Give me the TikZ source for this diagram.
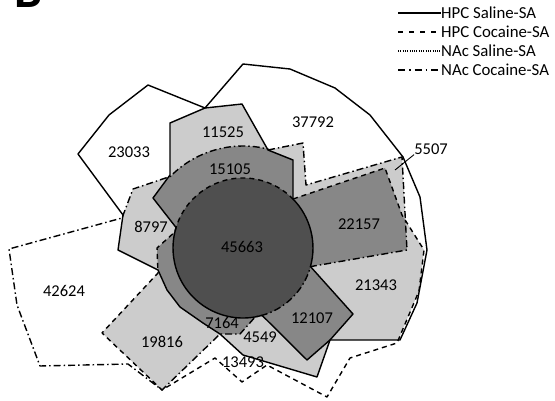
\documentclass[tikz,border=0pt]{standalone}
\usepackage{fontspec}
\setmainfont{Carlito}
\usetikzlibrary{calc}
\definecolor{vennLight}{gray}{0.80}
\definecolor{vennMid}{gray}{0.53}
\definecolor{vennDark}{gray}{0.31}
\tikzset{
  %% set outlines
  lnHPCsal/.style={draw=black, line width=1.4pt, line join=round},
  lnHPCcoc/.style={draw=black, line width=1.4pt, line join=round, dash pattern=on 5pt off 4pt},
  lnNAcsal/.style={draw=black, line width=1.4pt, line join=round},
  lnNAccoc/.style={draw=black, line width=1.4pt, line join=round, dash pattern=on 7pt off 3pt on 1.5pt off 3pt},
  %% legend samples
  legHPCsal/.style={draw=black, line width=1.1pt},
  legHPCcoc/.style={draw=black, line width=1.1pt, dash pattern=on 5pt off 6pt},
  legNAcsal/.style={draw=black, line width=1.1pt, dash pattern=on 1pt off 1.3pt},
  legNAccoc/.style={draw=black, line width=1.1pt, dash pattern=on 7pt off 4pt on 1.5pt off 4pt},
  %% texts
  cnt/.style={font=\fontsize{16.5}{18}\selectfont, inner sep=0pt},
  legtxt/.style={font=\fontsize{16.8}{18}\selectfont, anchor=west, inner sep=0pt},
}
%% the four sets (pixel coordinates, y downwards)
\newcommand{\outlineHPCsal}{(170,123) -- (205,108) -- (243,64) -- (290,69) -- (335,88) -- (370,115)
  -- (403,157) -- (420,197) -- (427,250) -- (417,303) -- (400,340) -- (330,340) -- (307,360)
  -- (262.06,315.35) arc[start angle=74.2, end angle=197, radius=70] -- (153,198) -- (170,175) -- cycle}
\newcommand{\outlineNAcsal}{(148,85) -- (205,108) -- (242,104) -- (268,150) -- (293,160)
  -- (293,199) arc[start angle=-44.4, end angle=15.4, radius=70] -- (353,314) -- (330,340)
  -- (317,377) -- (243,355) -- (220,334) -- (203,323) -- (180,307) -- (167,290) -- (158,270)
  -- (118,250) -- (123,215) -- (78,154) -- (109,115) -- cycle}
\newcommand{\outlineHPCcoc}{(293,199) -- (385,168) -- (402,215) -- (424,250) -- (419,291)
  -- (397,343) -- (350,358) -- (327,397) -- (267,365) -- (242,382) -- (215,358) -- (162,390)
  -- (102,333) -- (158,273) -- (157,248)
  -- (174.85,232) arc[start angle=-166.8, end angle=-44.4, radius=70] -- cycle}
\newcommand{\outlineNAccoc}{(268,150) -- (303,143) -- (306,185) -- (402,157) -- (407,250)
  -- (310.5,266.6) arc[start angle=15.4, end angle=80, radius=70] -- (240,334) -- (220,334)
  -- (162,390) -- (128,364) -- (40,366) -- (17,305) -- (9,249) -- (122,218) -- (133,189)
  -- (170.4,176.4) arc[start angle=-135.4, end angle=-75.7, radius=102] -- cycle}

\begin{document}
\begin{tikzpicture}[x=1pt, y=1pt, yscale=-1]
\useasboundingbox (0,0) rectangle (555,401);

%% Overlaps of two sets
\foreach \sa/\sb in {\outlineHPCsal/\outlineNAcsal, \outlineHPCsal/\outlineHPCcoc,
    \outlineHPCsal/\outlineNAccoc, \outlineNAcsal/\outlineHPCcoc,
    \outlineNAcsal/\outlineNAccoc, \outlineHPCcoc/\outlineNAccoc}{
  \begin{scope}
    \clip \sa;
    \fill[vennLight] \sb;
  \end{scope}
}
%% Overlaps of three sets
\foreach \sa/\sb/\sc in {\outlineHPCsal/\outlineNAcsal/\outlineHPCcoc,
    \outlineHPCsal/\outlineNAcsal/\outlineNAccoc, \outlineHPCsal/\outlineHPCcoc/\outlineNAccoc,
    \outlineNAcsal/\outlineHPCcoc/\outlineNAccoc}{
  \begin{scope}
    \clip \sa;
    \clip \sb;
    \fill[vennMid] \sc;
  \end{scope}
}
%% All four
\coordinate (core) at (243,248);
\fill[vennDark] (core) circle[radius=70];

%% Outlines
\draw[lnHPCsal] \outlineHPCsal;
\draw[lnNAcsal] \outlineNAcsal;
\draw[lnHPCcoc] \outlineHPCcoc;
\draw[lnNAccoc] \outlineNAccoc;

%% Counts
\node[cnt] (n23033) at (129,152) {23033};
\node[cnt] (n11525) at (223,132) {11525};
\node[cnt] (n37792) at (313,122) {37792};
\node[cnt] (n15105) at (230,169) {15105};
\node[cnt] (n5507)  at (431,149) {5507};
\node[cnt] (n8797)  at (151,227) {8797};
\node[cnt] (n45663) at (242,247) {45663};
\node[cnt] (n22157) at (359,224) {22157};
\node[cnt] (n42624) at (64,291)  {42624};
\node[cnt] (n21343) at (376,285) {21343};
\node[cnt] (n12107) at (312,318) {12107};
\node[cnt] (n19816) at (162,342) {19816};
\node[cnt] (n7164)  at (222,323) {7164};
\node[cnt] (n4549)  at (260,337) {4549};
\node[cnt] (n13493) at (243,362) {13493};
\coordinate (tip5507) at (395,170);
\draw[line width=0.9pt] (n5507.south west) -- (tip5507);

%% Legend
\foreach \y/\st/\txt [count=\i] in {13/legHPCsal/HPC Saline-SA, 32/legHPCcoc/HPC Cocaine-SA,
    51/legNAcsal/NAc Saline-SA, 70/legNAccoc/NAc Cocaine-SA}{
  \coordinate (legA\i) at (398,\y);
  \node[legtxt] (leg\i) at (441,\y) {\txt};
  \draw[\st] (legA\i) -- (leg\i.west);
}

%% Panel letter
\node[font=\fontsize{50}{50}\selectfont\bfseries, anchor=base west, inner sep=0pt] (panelB) at (14,7.5) {B};
\end{tikzpicture}
\end{document}
